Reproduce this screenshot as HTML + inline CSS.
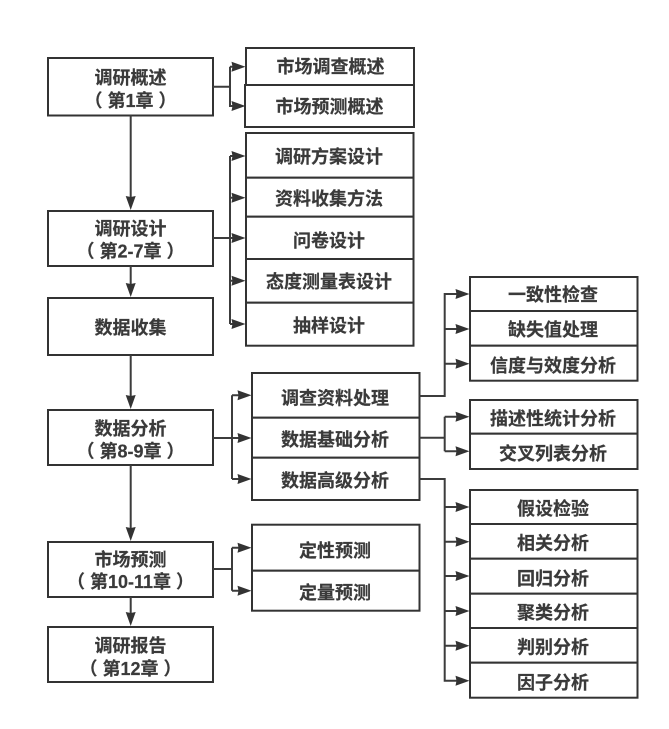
<!DOCTYPE html>
<html><head><meta charset="utf-8">
<style>
html,body{margin:0;padding:0;background:#fff;width:669px;height:729px;overflow:hidden}
svg{display:block}
text{font-family:"Liberation Sans","Noto Sans CJK SC",sans-serif;font-weight:700;font-size:18px;fill:#3a3a3a;stroke:#3a3a3a;stroke-width:.2;text-anchor:middle;white-space:pre}
.b{fill:#fff;stroke:#333;stroke-width:2}
.l{fill:none;stroke:#3c3c3c;stroke-width:2}
.a{fill:#333}
</style></head><body>
<svg width="669" height="729" viewBox="0 0 669 729" xmlns="http://www.w3.org/2000/svg">
<defs><polygon id="h" class="a" points="0,-5 14,0 0,5 1,0"/><polygon id="v" class="a" points="-5,0 0,14 5,0 0,1"/></defs>

<!-- left boxes -->
<rect class="b" x="48" y="58" width="165" height="57.500"/>
<rect class="b" x="48" y="211" width="165" height="55"/>
<rect class="b" x="48" y="298" width="165" height="57"/>
<rect class="b" x="48" y="410" width="165" height="55"/>
<rect class="b" x="48" y="542" width="165" height="55"/>
<rect class="b" x="48" y="627" width="165" height="55"/>

<!-- vertical flow -->
<path class="l" d="M130.700 115V198M130.700 266V285M130.700 355V397M130.700 465V529M130.700 597V614"/>
<use href="#v" x="130.700" y="196"/><use href="#v" x="130.700" y="283"/><use href="#v" x="130.700" y="395"/><use href="#v" x="130.700" y="527"/><use href="#v" x="130.700" y="612"/>

<!-- group 1 -->
<rect class="b" x="246" y="48" width="168" height="37"/>
<rect class="b" x="245" y="85" width="169" height="42"/>
<path class="l" d="M213 86.700H229.500M230 66.700V106H240M230 66.700H240"/>
<use href="#h" x="231.500" y="66.700"/><use href="#h" x="231.500" y="106"/>

<!-- group 2 -->
<rect class="b" x="246" y="133" width="167.500" height="44.700"/>
<rect class="b" x="246" y="177.700" width="167.500" height="39"/>
<rect class="b" x="246" y="216.700" width="167.500" height="42.300"/>
<rect class="b" x="246" y="259" width="167.500" height="43.700"/>
<rect class="b" x="246" y="302.700" width="167.500" height="43"/>
<path class="l" d="M213 238H240M230 156V324M230 156H240M230 197.700H240M230 280.700H240M230 324H240"/>
<use href="#h" x="231.500" y="156"/><use href="#h" x="231.500" y="197.700"/><use href="#h" x="231.500" y="238"/><use href="#h" x="231.500" y="280.700"/><use href="#h" x="231.500" y="324"/>

<!-- group 3 -->
<rect class="b" x="252" y="373" width="167.500" height="44.700"/>
<rect class="b" x="252" y="417.700" width="167.500" height="40"/>
<rect class="b" x="252" y="457.700" width="167.500" height="42.300"/>
<path class="l" d="M213 438H246M232 395.300V479M232 395.300H246M232 479H246"/>
<use href="#h" x="237.500" y="395.300"/><use href="#h" x="237.500" y="438"/><use href="#h" x="237.500" y="479"/>

<!-- group 4 -->
<rect class="b" x="252" y="524.700" width="167.500" height="46"/>
<rect class="b" x="252" y="570.700" width="167.500" height="40"/>
<path class="l" d="M213 569H232M232 547.700V590.700M232 547.700H246M232 590.700H246"/>
<use href="#h" x="237.500" y="547.700"/><use href="#h" x="237.500" y="590.700"/>

<!-- right top -->
<rect class="b" x="470" y="277" width="167.500" height="34"/>
<rect class="b" x="470" y="311" width="167.500" height="34.700"/>
<rect class="b" x="470" y="345.700" width="167.500" height="35"/>
<path class="l" d="M419.500 396H444.700V294H464M444.700 329H464M444.700 363.700H464"/>
<use href="#h" x="455.500" y="294"/><use href="#h" x="455.500" y="329"/><use href="#h" x="455.500" y="363.700"/>

<!-- right mid -->
<rect class="b" x="470" y="400" width="167.500" height="33.700"/>
<rect class="b" x="470" y="433.700" width="167.500" height="35.300"/>
<path class="l" d="M419.500 437.700H444.700M444.700 416.700V451.300M444.700 416.700H464M444.700 451.300H464"/>
<use href="#h" x="455.500" y="416.700"/><use href="#h" x="455.500" y="451.300"/>

<!-- right bottom -->
<rect class="b" x="470" y="490" width="167.500" height="34"/>
<rect class="b" x="470" y="524" width="167.500" height="34.700"/>
<rect class="b" x="470" y="558.700" width="167.500" height="35"/>
<rect class="b" x="470" y="593.700" width="167.500" height="34.300"/>
<rect class="b" x="470" y="628" width="167.500" height="34.700"/>
<rect class="b" x="470" y="662.700" width="167.500" height="35"/>
<path class="l" d="M419.500 479H444.700V680.700H464M444.700 507H464M444.700 541.700H464M444.700 576H464M444.700 611H464M444.700 645.700H464"/>
<use href="#h" x="455.500" y="507"/><use href="#h" x="455.500" y="541.700"/><use href="#h" x="455.500" y="576"/><use href="#h" x="455.500" y="611"/><use href="#h" x="455.500" y="645.700"/><use href="#h" x="455.500" y="680.700"/>

<!-- labels -->
<text x="130.500" y="84">调研概述</text>
<text x="130.500" y="107">（ 第1章 ）</text>
<text x="130.500" y="235">调研设计</text>
<text x="130.500" y="257.500">（ 第2-7章 ）</text>
<text x="130.500" y="334">数据收集</text>
<text x="130.500" y="435">数据分析</text>
<text x="130.500" y="457.500">（ 第8-9章 ）</text>
<text x="130.500" y="566">市场预测</text>
<text x="130.500" y="588">（ 第10-11章 ）</text>
<text x="130.500" y="652">调研报告</text>
<text x="130.500" y="675">（ 第12章 ）</text>

<text x="330.500" y="73">市场调查概述</text>
<text x="329.500" y="113">市场预测概述</text>
<text x="329" y="163">调研方案设计</text>
<text x="329" y="205">资料收集方法</text>
<text x="329" y="247">问卷设计</text>
<text x="329" y="288">态度测量表设计</text>
<text x="329" y="332">抽样设计</text>

<text x="335" y="404.500">调查资料处理</text>
<text x="335" y="446">数据基础分析</text>
<text x="335" y="487">数据高级分析</text>
<text x="335" y="557">定性预测</text>
<text x="335" y="599">定量预测</text>

<text x="553" y="301">一致性检查</text>
<text x="553" y="336">缺失值处理</text>
<text x="553" y="372">信度与效度分析</text>
<text x="553" y="425">描述性统计分析</text>
<text x="553" y="460">交叉列表分析</text>
<text x="553" y="515">假设检验</text>
<text x="553" y="549.500">相关分析</text>
<text x="553" y="585">回归分析</text>
<text x="553" y="619">聚类分析</text>
<text x="553" y="653.500">判别分析</text>
<text x="553" y="689">因子分析</text>
</svg>
</body></html>
